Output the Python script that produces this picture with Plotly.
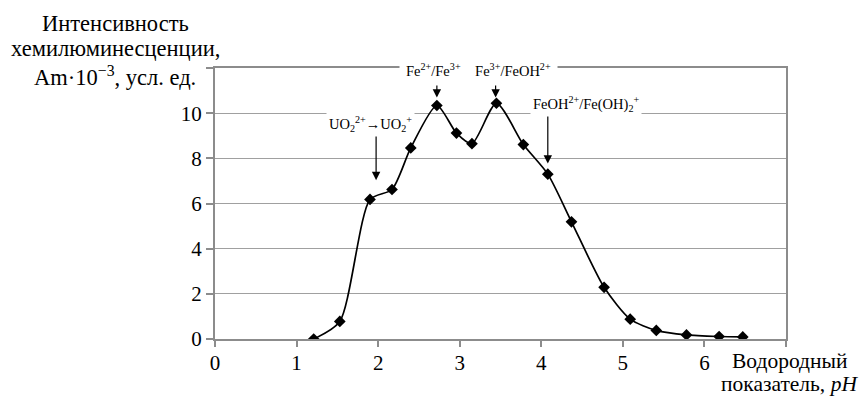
import plotly.graph_objects as go

# pH values and chemiluminescence intensity (Am·10^-3, arb. units)
ph = [1.21, 1.53, 1.90, 2.17, 2.40, 2.72, 2.96, 3.15, 3.45, 3.78, 4.08,
      4.37, 4.77, 5.09, 5.41, 5.78, 6.18, 6.47]
intensity = [0.0, 0.78, 6.18, 6.62, 8.46, 10.34, 9.12, 8.65, 10.44, 8.61, 7.30,
             5.19, 2.29, 0.88, 0.38, 0.18, 0.11, 0.09]

x_ticks = [0, 1, 2, 3, 4, 5, 6, 7]
x_tick_text = ["0", "1", "2", "3", "4", "5", "6", ""]
y_ticks = [0, 2, 4, 6, 8, 10, 12]
y_tick_text = ["0", "2", "4", "6", "8", "10", ""]

# Arrows marking redox transitions: (pH, tail value, tip value)
arrows = [(1.975, 9.32, 7.03), (2.72, 11.88, 10.69), (3.44, 11.88, 10.69), (4.08, 10.12, 7.77)]
# Transition labels: (text, pH of centre, value on the 0-12 scale, padding)
labels = [
    ("UO<sub>2</sub><sup>2+</sup>→UO<sub>2</sub><sup>+</sup>", 1.905, 10.1, 2),
    ("Fe<sup>2+</sup>/Fe<sup>3+</sup>&nbsp;&nbsp;&nbsp;&nbsp;Fe<sup>3+</sup>/FeOH<sup>2+</sup>",
     3.23, 12.62, 6),
    ("FeOH<sup>2+</sup>/Fe(OH)<sub>2</sub><sup>+</sup>", 4.55, 10.96, 2),
]

y_title = ["Интенсивность", "хемилюминесценции,", "Am·10<sup>−3</sup>, усл. ед."]
x_title = ["Водородный", "показатель, <i>pH</i>"]

FONT = "Liberation Serif, Times New Roman, serif"
Y_MAX = 12.0

fig = go.Figure()
fig.add_trace(go.Scatter(
    x=ph, y=intensity, mode="lines+markers",
    line=dict(color="black", width=1.7, shape="spline", smoothing=0.7),
    marker=dict(symbol="diamond", size=9, color="black"),
    showlegend=False, hoverinfo="skip",
))

annotations = []
for xa, tail, tip in arrows:
    annotations.append(dict(
        x=xa, y=tip, ax=xa, ay=tail, xref="x", yref="y", axref="x", ayref="y",
        showarrow=True, arrowhead=2, arrowsize=1.4, arrowwidth=1.2,
        arrowcolor="black", text="",
    ))
for text, lx, ly, pad in labels:
    annotations.append(dict(
        x=lx, y=ly / Y_MAX, xref="x", yref="paper", text=text, showarrow=False,
        font=dict(family=FONT, size=14.5, color="black"),
        bgcolor="white", borderpad=pad,
    ))

# axis titles, one annotation per line for tight line spacing
for line, yp in zip(y_title, [1.166, 1.073, 0.971]):
    annotations.append(dict(
        xref="paper", yref="paper", x=-0.175, y=yp, xanchor="center", yanchor="middle",
        text=line, showarrow=False,
        font=dict(family=FONT, size=22.5, color="black"),
    ))
for line, yp in zip(x_title, [-0.082, -0.166]):
    annotations.append(dict(
        xref="paper", yref="paper", x=1.007, y=yp, xanchor="center", yanchor="middle",
        text=line, showarrow=False,
        font=dict(family=FONT, size=21.5, color="black"),
    ))

fig.update_layout(
    width=861, height=396,
    margin=dict(l=215, r=75, t=68, b=57),
    paper_bgcolor="white", plot_bgcolor="white",
    font=dict(family=FONT, size=22, color="black"),
    annotations=annotations,
    xaxis=dict(
        range=[0, 7], tickvals=x_ticks, ticktext=x_tick_text,
        showgrid=False, zeroline=False,
        showline=True, linecolor="#8c8c8c", linewidth=2, mirror=True,
        ticks="outside", ticklen=6, tickcolor="#8c8c8c", tickwidth=1.5,
        ticklabelstandoff=-2,
        tickfont=dict(family=FONT, size=21, color="black"),
    ),
    yaxis=dict(
        range=[0, Y_MAX], tickvals=y_ticks, ticktext=y_tick_text,
        showgrid=True, gridcolor="#a0a0a0", gridwidth=1.2, zeroline=False,
        showline=True, linecolor="#8c8c8c", linewidth=2, mirror=True,
        ticks="outside", ticklen=7, tickcolor="#8c8c8c", tickwidth=1.5,
        tickfont=dict(family=FONT, size=21, color="black"),
    ),
)

fig.write_html("out.html")
